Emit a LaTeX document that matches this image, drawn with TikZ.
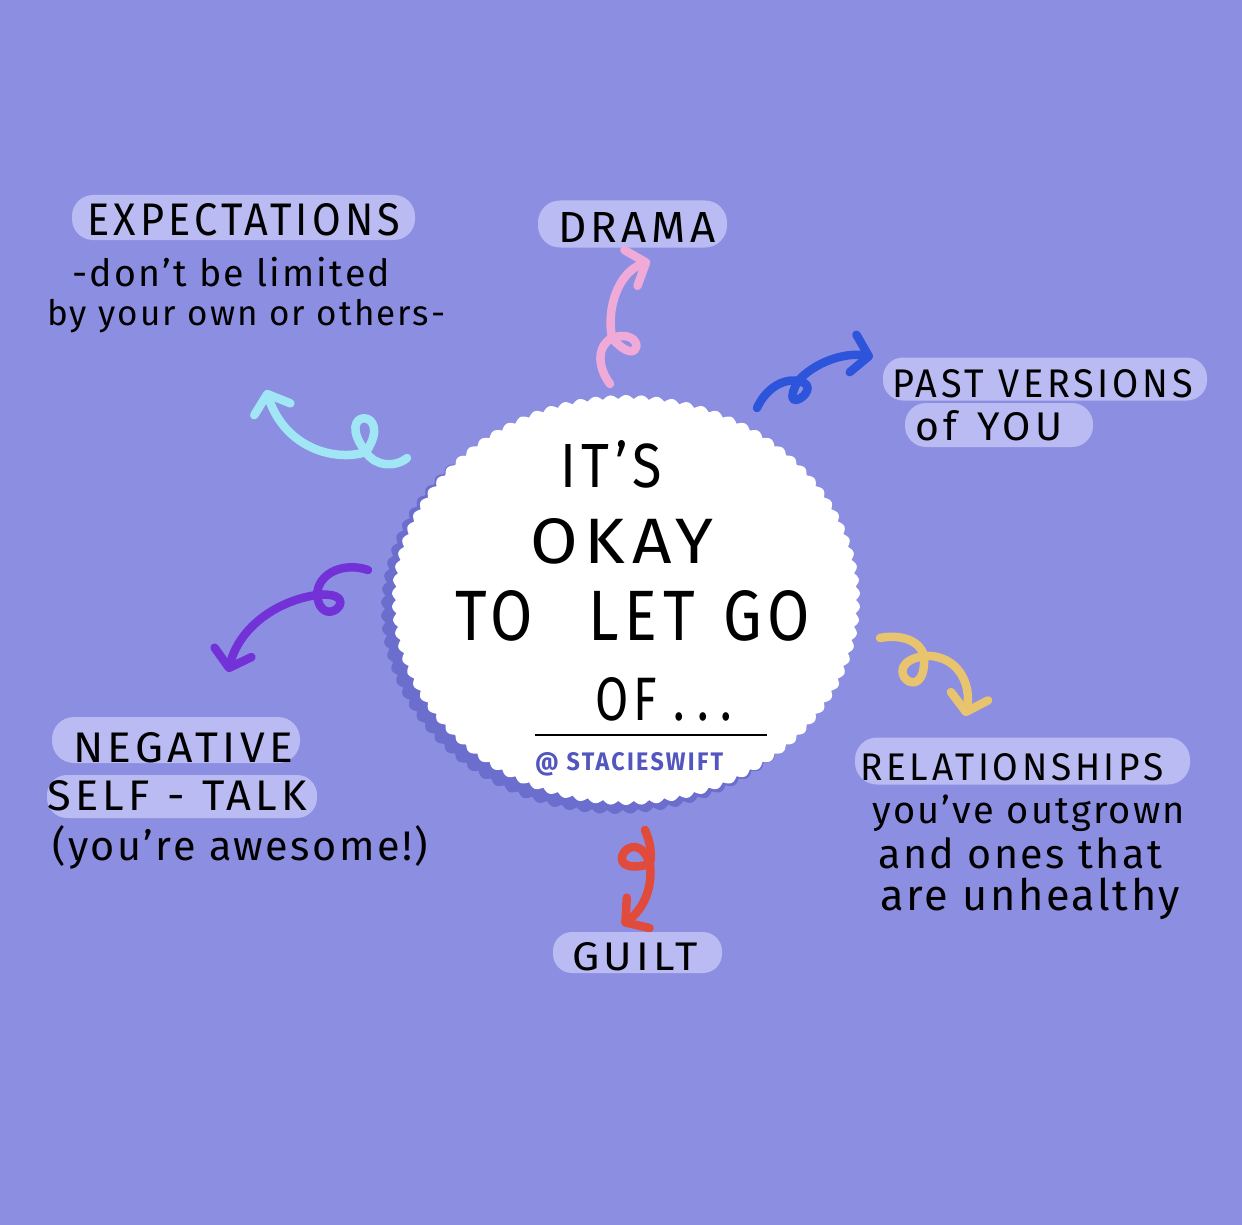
\documentclass[tikz,border=0pt]{standalone}
\usepackage{fontspec}
\setmainfont{Fira Sans}
\newfontfamily\capsfont{Fira Sans}[LetterSpace=10]
\newfontfamily\handfont{Fira Sans}[LetterSpace=6]
\usepackage{graphicx}
\usetikzlibrary{arrows.meta}
\definecolor{bg}{RGB}{140,143,225}
\definecolor{pillc}{RGB}{186,187,242}
\definecolor{shadowc}{RGB}{108,110,205}
\definecolor{handlec}{RGB}{82,86,190}
\definecolor{pinkc}{RGB}{240,170,215}
\definecolor{bluec}{RGB}{45,85,220}
\definecolor{cyanc}{RGB}{160,230,245}
\definecolor{purplec}{RGB}{115,50,215}
\definecolor{yellowc}{RGB}{232,196,110}
\definecolor{redc}{RGB}{225,75,60}
\newcommand{\fitcaps}[3]{\resizebox{#1pt}{#2pt}{\capsfont #3}}
\newcommand{\fitline}[2]{\resizebox{#1pt}{!}{\handfont #2}}
\tikzset{
  pill/.style={fill=pillc, inner sep=0pt},
  lbl/.style={inner sep=0pt, text=black, anchor=base west},
  curl/.style={line width=8.5pt, line cap=round, line join=round,
    -{Straight Barb[length=16pt,width=38pt,round]}}
}
\begin{document}
\begin{tikzpicture}[x=1pt,y=-1pt]
\useasboundingbox (0,0) rectangle (1242,1225);
\fill[bg] (0,0) rectangle (1242,1225);

% central scalloped blob with shadow (94 scallops)
\fill[shadowc] plot[domain=0:94,samples=941]
  ({615+(230+4*sin(180*mod(\x,1)))*cos(\x*3.829787)},{609+(201+4*sin(180*mod(\x,1)))*sin(\x*3.829787)}) -- cycle;
\fill[white] plot[domain=0:94,samples=941]
  ({626+(230+4*sin(180*mod(\x,1)))*cos(\x*3.829787)},{600+(201+4*sin(180*mod(\x,1)))*sin(\x*3.829787)}) -- cycle;
\node[lbl] (its) at (560,487) {\fitcaps{102}{47}{IT’S}};
\node[lbl] (okay) at (530,563) {\fitcaps{183}{45}{OKAY}};
\node[lbl] (letgo) at (455,640) {\fitcaps{355}{50}{TO\hspace{0.9em}LET\hspace{0.45em}GO}};
\node[lbl] (of) at (595,720) {\fitcaps{137}{43}{OF\hspace{0.35em}.\hspace{0.25em}.\hspace{0.25em}.}};
\draw[line width=2.5pt] (535,735) -- (767,735);
\node[lbl, text=handlec] (handle) at (535,770) {\resizebox{188pt}{18pt}{\bfseries\capsfont @ STACIESWIFT}};

% pills
\node[pill, minimum width=343pt, minimum height=45pt, rounded corners=21pt] (expectpill) at (243.5,217.5) {};
\node[pill, minimum width=189pt, minimum height=47pt, rounded corners=22pt] (dramapill) at (632.5,224) {};
\node[pill, minimum width=324pt, minimum height=43pt, rounded corners=20pt] (pastpill) at (1045,379) {};
\node[pill, minimum width=188pt, minimum height=44pt, rounded corners=21pt] (youpill) at (999,425) {};
\node[pill, minimum width=248pt, minimum height=46pt, rounded corners=22pt] (negpill) at (176,740) {};
\node[pill, minimum width=270pt, minimum height=43pt, rounded corners=20pt] (selfpill) at (182,796.5) {};
\node[pill, minimum width=335pt, minimum height=47pt, rounded corners=22pt] (relpill) at (1022.5,761) {};
\node[pill, minimum width=169pt, minimum height=41pt, rounded corners=19pt] (guiltpill) at (637.5,952.5) {};

% labels
\node[lbl] (expect) at (87,235) {\fitcaps{313}{32}{EXPECTATIONS}};
\node[lbl] (expect2) at (72,287) {\fitline{318}{-don’t be limited}};
\node[lbl] (expect3) at (47,325) {\fitline{398}{by your own or others-}};
\node[lbl] (drama) at (558,243) {\fitcaps{157}{30}{DRAMA}};
\node[lbl] (past) at (892,397) {\fitcaps{301}{28}{PAST VERSIONS}};
\node[lbl] (you) at (915,440) {\fitcaps{147}{30}{of\hspace{0.5em}YOU}};
\node[lbl] (neg) at (73,762) {\fitcaps{220}{30}{NEGATIVE}};
\node[lbl] (self) at (47,810) {\fitcaps{260}{30}{SELF\hspace{0.4em}-\hspace{0.4em}TALK}};
\node[lbl] (awesome) at (52,860) {\fitline{376}{(you’re awesome!)}};
\node[lbl] (rel) at (860,780) {\fitcaps{303}{27}{RELATIONSHIPS}};
\node[lbl] (rel2) at (872,823) {\fitline{313}{you’ve outgrown}};
\node[lbl] (rel3) at (878,868) {\fitline{284}{and ones that}};
\node[lbl] (rel4) at (880,910) {\fitline{300}{are unhealthy}};
\node[lbl] (guilt) at (572,970) {\fitcaps{126}{28}{GUILT}};

% curly arrows
\coordinate (pS) at (610,384); \coordinate (pC) at (612,338); \coordinate (pE) at (650,261);
\draw[curl, pinkc] (pS) .. controls (596,365) and (598,345) .. (pC)
  .. controls (647,326) and (642,373) .. (pC)
  .. controls (606,305) and (620,272) .. (pE);

\coordinate (bS) at (757,408); \coordinate (bC) at (798,381); \coordinate (bE) at (873,357);
\draw[curl, bluec] (bS) .. controls (765,390) and (782,378) .. (bC)
  .. controls (828,386) and (776,421) .. (bC)
  .. controls (815,362) and (845,352) .. (bE);

\coordinate (cS) at (407,458); \coordinate (cC) at (366,452); \coordinate (cE) at (266,390);
\draw[curl, cyanc] (cS) .. controls (395,468) and (374,466) .. (cC)
  .. controls (331,407) and (396,407) .. (cC)
  .. controls (335,462) and (285,448) .. (cE);

\coordinate (uS) at (368,570); \coordinate (uC) at (317,595); \coordinate (uE) at (228,672);
\draw[curl, purplec] (uS) .. controls (345,562) and (318,572) .. (uC)
  .. controls (322,635) and (367,590) .. (uC)
  .. controls (280,600) and (240,625) .. (uE);

\coordinate (yS) at (880,638); \coordinate (yC) at (924,656); \coordinate (yE) at (965,716);
\draw[curl, yellowc] (yS) .. controls (900,634) and (920,640) .. (yC)
  .. controls (927,711) and (874,664) .. (yC)
  .. controls (958,654) and (972,685) .. (yE);

\coordinate (rS) at (645,830); \coordinate (rC) at (650,864); \coordinate (rE) at (622,925);
\draw[curl, redc] (rS) .. controls (650,842) and (652,852) .. (rC)
  .. controls (595,879) and (635,819) .. (rC)
  .. controls (653,890) and (642,910) .. (rE);
\end{tikzpicture}
\end{document}
